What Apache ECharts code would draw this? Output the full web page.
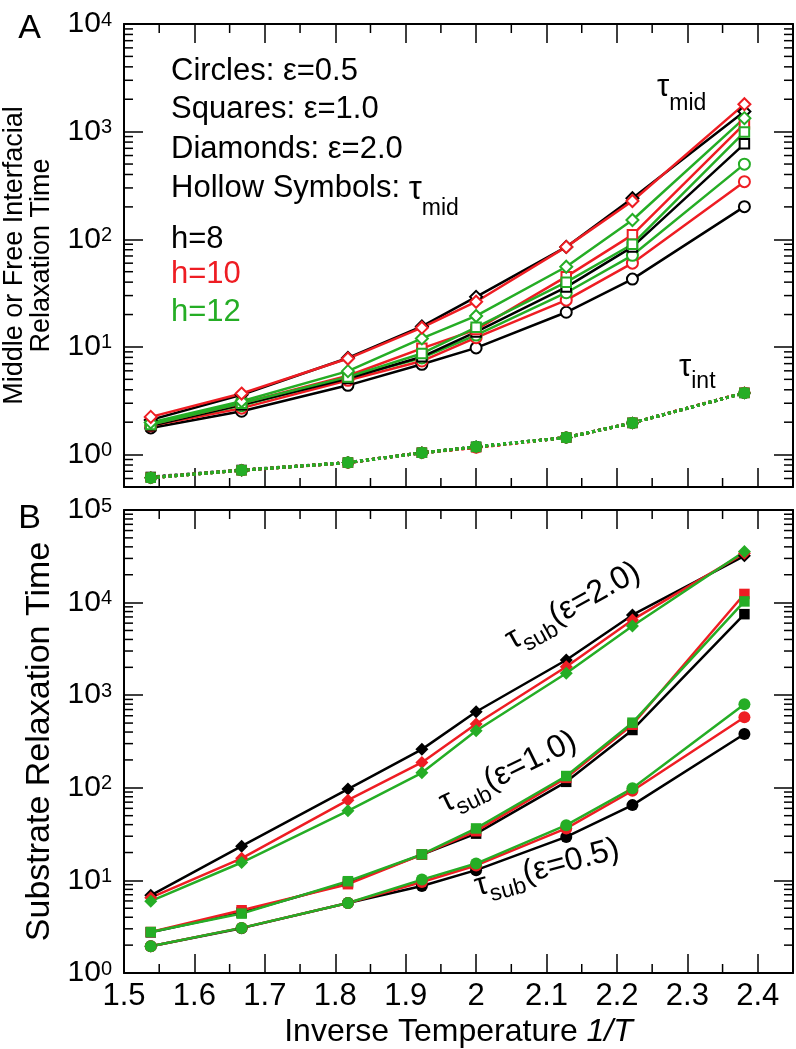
<!DOCTYPE html>
<html><head><meta charset="utf-8">
<script src="https://cdn.jsdelivr.net/npm/echarts@6/dist/echarts.min.js"></script>
<style>html,body{margin:0;padding:0;background:#fff}#c{width:796px;height:1049px}</style>
</head><body><div id="c"></div>
<script>
// ---------------- data ----------------
const invT = [1.538, 1.667, 1.818, 1.923, 2.0, 2.128, 2.222, 2.381];

const xTickValues = [1.5, 1.6, 1.7, 1.8, 1.9, 2.0, 2.1, 2.2, 2.3, 2.4];
const xTickLabels = ['1.5', '1.6', '1.7', '1.8', '1.9', '2', '2.1', '2.2', '2.3', '2.4'];
const xMinorValues = [1.55, 1.65, 1.75, 1.85, 1.95, 2.05, 2.15, 2.25, 2.35];
const minorMultipliers = [2, 3, 4, 5, 6, 7, 8, 9];
const topDecades = [0.1, 1, 10, 100, 1000];
const botDecades = [1, 10, 100, 1000, 10000];

// Panel A: tau_mid (hollow symbols)
const midH8E05  = [1.77, 2.53, 4.4, 6.9, 9.8, 21, 42.7, 201];
const midH10E05 = [1.85, 2.7, 4.9, 7.4, 12.2, 27.2, 60, 343];
const midH12E05 = [1.9, 2.85, 5.2, 7.9, 12.9, 31.9, 71, 499];
const midH8E10  = [1.85, 2.9, 5.1, 8.1, 13.8, 36, 85, 770];
const midH10E10 = [1.9, 3.0, 5.4, 9.7, 14.5, 45, 110, 1180];
const midH12E10 = [1.9, 3.0, 5.27, 8.7, 15.2, 40, 90, 990];
const midH8E20  = [2.1, 3.6, 7.9, 15.5, 29.2, 85, 241, 1540];
const midH10E20 = [2.24, 3.69, 7.8, 15.1, 26.3, 85, 227, 1800];
const midH12E20 = [1.99, 3.13, 5.96, 12, 19.4, 55.6, 151, 1335];

// Panel A: tau_int (filled symbols, dotted)
const intH8E05  = [0.61, 0.715, 0.843, 1.04, 1.18, 1.44, 1.97, 3.74];
const intH10E05 = [0.61, 0.715, 0.84, 1.04, 1.16, 1.44, 1.97, 3.76];
const intH12E05 = [0.61, 0.715, 0.843, 1.04, 1.18, 1.44, 1.97, 3.74];
const intH8E10  = [0.62, 0.72, 0.843, 1.04, 1.18, 1.44, 1.97, 3.74];
const intH10E10 = [0.61, 0.715, 0.843, 1.04, 1.17, 1.44, 1.97, 3.75];
const intH12E10 = [0.61, 0.715, 0.843, 1.04, 1.18, 1.44, 1.97, 3.74];
const intH8E20  = [0.61, 0.715, 0.843, 1.04, 1.18, 1.44, 1.97, 3.74];
const intH10E20 = [0.61, 0.715, 0.843, 1.04, 1.17, 1.44, 1.97, 3.75];
const intH12E20 = [0.61, 0.715, 0.843, 1.04, 1.18, 1.44, 1.97, 3.74];

// Panel B: tau_sub (filled symbols)
const subH8E05  = [1.94, 3.05, 5.7, 8.7, 12.9, 29.5, 65, 381];
const subH10E05 = [1.94, 3.07, 5.7, 9.6, 14.5, 36.4, 93, 577];
const subH12E05 = [1.94, 3.07, 5.71, 10.2, 15.2, 39.5, 98.6, 798];
const subH8E10  = [2.75, 4.5, 9.5, 19, 32, 116, 421, 7500];
const subH10E10 = [2.77, 4.76, 9.1, 19, 34, 128, 480, 12400];
const subH12E10 = [2.77, 4.38, 9.8, 19.1, 36.4, 134, 505, 10300];
const subH8E20  = [6.9, 23.4, 96.8, 260, 663, 2400, 7360, 32000];
const subH10E20 = [6.5, 17.3, 73.6, 188, 488, 2030, 6500, 34200];
const subH12E20 = [5.96, 15.6, 56.4, 145, 413, 1725, 5600, 35600];

// ---------------- styling ----------------
const FONT = '"Liberation Sans", Arial, Helvetica, sans-serif';
const BLACK = '#000000', RED = '#ee1d23', GREEN = '#25ad25';
const MAJOR = 19, MINOR = 9;
const X_MIN = 1.5, X_MAX = 2.45;
const LEG = 31;

const chart = echarts.init(document.getElementById('c'), null, {renderer: 'canvas'});

function minorList(decades, lo, hi) {
  const out = [];
  decades.forEach(d => minorMultipliers.forEach(m => {
    const v = d * m;
    if (v > lo * 1.0001 && v < hi * 0.9999) out.push(v);
  }));
  return out;
}

function powLabel(v) {
  const l = Math.log10(v);
  const e = Math.round(l);
  if (Math.abs(l - e) > 1e-6) return '';
  return '{b|10}{s|' + e + '}';
}
const powRich = {
  b: {fontSize: 30, fontFamily: FONT, color: '#000', lineHeight: 30, padding: [10, 0, 10, 0]},
  s: {fontSize: 20, fontFamily: FONT, color: '#000', lineHeight: 20, verticalAlign: 'top', padding: [1, 0, 0, 0]}
};

function xLabel(v) {
  const i = xTickValues.findIndex(t => Math.abs(t - v) < 1e-6);
  return i >= 0 ? xTickLabels[i] : '';
}

const axisLine = {show: true, onZero: false, lineStyle: {color: '#000', width: 2}};
const majorTick = {show: true, inside: true, length: MAJOR, lineStyle: {color: '#000', width: 1.5}};

function xAx(grid, pos, showLabels, extra) {
  return Object.assign({
    type: 'value', gridIndex: grid, position: pos, min: X_MIN, max: X_MAX,
    axisLine: axisLine,
    axisTick: Object.assign({customValues: xTickValues}, majorTick),
    axisLabel: showLabels ? {
      show: true, customValues: xTickValues, formatter: xLabel, fontSize: 31, lineHeight: 31,
      fontFamily: FONT, color: '#000', margin: 8
    } : {show: false},
    splitLine: {show: false}, minorTick: {show: false}
  }, extra || {});
}

function yAx(grid, pos, min, max, showLabels, extra) {
  return Object.assign({
    type: 'log', logBase: 10, gridIndex: grid, position: pos, min: min, max: max,
    axisLine: axisLine,
    axisTick: majorTick,
    axisLabel: showLabels ? {
      show: true, formatter: powLabel, rich: powRich, margin: 12, color: '#000'
    } : {show: false},
    splitLine: {show: false}, minorTick: {show: false}
  }, extra || {});
}

function minorTickSeries(xi, yi, yMinorVals, yRef) {
  const data = [];
  yMinorVals.forEach(v => data.push([X_MIN, v, 0]));
  xMinorValues.forEach(u => data.push([u, yRef, 1]));
  return {
    type: 'custom', xAxisIndex: xi, yAxisIndex: yi, silent: true, z: 1, animation: false,
    clip: false,
    renderItem: function (params, api) {
      const cs = params.coordSys;
      const p = api.coord([api.value(0), api.value(1)]);
      const st = {stroke: '#000', lineWidth: 1.5};
      if (api.value(2) === 0) {
        return {type: 'group', children: [
          {type: 'line', shape: {x1: cs.x, y1: p[1], x2: cs.x + MINOR, y2: p[1]}, style: st},
          {type: 'line', shape: {x1: cs.x + cs.width - MINOR, y1: p[1], x2: cs.x + cs.width, y2: p[1]}, style: st}
        ]};
      }
      return {type: 'group', children: [
        {type: 'line', shape: {x1: p[0], y1: cs.y + cs.height, x2: p[0], y2: cs.y + cs.height - MINOR}, style: st},
        {type: 'line', shape: {x1: p[0], y1: cs.y, x2: p[0], y2: cs.y + MINOR}, style: st}
      ]};
    },
    data: data
  };
}

const SHAPES = {e05: 'circle', e10: 'rect', e20: 'diamond'};
const SIZES = {e05: 11, e10: 9.5, e20: 12};

function ser(name, vals, color, eps, hollow, dotted, xi, yi) {
  return {
    name: name, type: 'line', xAxisIndex: xi, yAxisIndex: yi,
    data: invT.map((x, i) => [x, vals[i]]),
    symbol: SHAPES[eps], symbolSize: SIZES[eps] + (hollow ? 0 : 1),
    showSymbol: true, animation: false,
    lineStyle: {color: color, width: dotted ? 3 : 2.5, type: dotted ? 'dotted' : 'solid'},
    itemStyle: hollow ? {color: '#ffffff', borderColor: color, borderWidth: 2}
                      : {color: color, borderColor: color, borderWidth: 0, opacity: 1},
    emphasis: {disabled: true}, z: 2
  };
}

const series = [
  minorTickSeries(0, 0, minorList(topDecades, 0.5, 1e4), 1),
  minorTickSeries(2, 2, minorList(botDecades, 1, 1e5), 10),
  // tau_int dotted (panel A)
  ser('int h8 e2', intH8E20, BLACK, 'e20', false, true, 0, 0),
  ser('int h8 e1', intH8E10, BLACK, 'e10', false, true, 0, 0),
  ser('int h8 e05', intH8E05, BLACK, 'e05', false, true, 0, 0),
  ser('int h10 e2', intH10E20, RED, 'e20', false, true, 0, 0),
  ser('int h10 e1', intH10E10, RED, 'e10', false, true, 0, 0),
  ser('int h10 e05', intH10E05, RED, 'e05', false, true, 0, 0),
  ser('int h12 e2', intH12E20, GREEN, 'e20', false, true, 0, 0),
  ser('int h12 e1', intH12E10, GREEN, 'e10', false, true, 0, 0),
  ser('int h12 e05', intH12E05, GREEN, 'e05', false, true, 0, 0),
  // tau_mid hollow (panel A)
  ser('mid h8 e05', midH8E05, BLACK, 'e05', true, false, 0, 0),
  ser('mid h10 e05', midH10E05, RED, 'e05', true, false, 0, 0),
  ser('mid h12 e05', midH12E05, GREEN, 'e05', true, false, 0, 0),
  ser('mid h8 e1', midH8E10, BLACK, 'e10', true, false, 0, 0),
  ser('mid h10 e1', midH10E10, RED, 'e10', true, false, 0, 0),
  ser('mid h12 e1', midH12E10, GREEN, 'e10', true, false, 0, 0),
  ser('mid h8 e2', midH8E20, BLACK, 'e20', true, false, 0, 0),
  ser('mid h12 e2', midH12E20, GREEN, 'e20', true, false, 0, 0),
  ser('mid h10 e2', midH10E20, RED, 'e20', true, false, 0, 0),
  // tau_sub (panel B)
  ser('sub h8 e05', subH8E05, BLACK, 'e05', false, false, 2, 2),
  ser('sub h10 e05', subH10E05, RED, 'e05', false, false, 2, 2),
  ser('sub h12 e05', subH12E05, GREEN, 'e05', false, false, 2, 2),
  ser('sub h8 e1', subH8E10, BLACK, 'e10', false, false, 2, 2),
  ser('sub h10 e1', subH10E10, RED, 'e10', false, false, 2, 2),
  ser('sub h12 e1', subH12E10, GREEN, 'e10', false, false, 2, 2),
  ser('sub h8 e2', subH8E20, BLACK, 'e20', false, false, 2, 2),
  ser('sub h10 e2', subH10E20, RED, 'e20', false, false, 2, 2),
  ser('sub h12 e2', subH12E20, GREEN, 'e20', false, false, 2, 2)
];

function txt(x, y, text, size, color, extra) {
  return Object.assign({type: 'text', x: x, y: y, silent: true, z: 100,
    style: {text: text, font: size + 'px ' + FONT, fill: color || '#000', align: 'left', verticalAlign: 'top', lineHeight: size}}, extra || {});
}

function tauRich(main, sub, tail, mainSize, subSize, subPad) {
  return {
    text: '{t|' + main + '}{s|' + sub + '}' + (tail ? '{p|' + tail + '}' : ''),
    rich: {
      t: {fontSize: mainSize, fontFamily: FONT, lineHeight: mainSize, verticalAlign: 'top', fill: '#000'},
      s: {fontSize: subSize, fontFamily: FONT, lineHeight: subSize, verticalAlign: 'top', padding: [subPad, 0, 0, 0], fill: '#000'},
      p: {fontSize: mainSize, fontFamily: FONT, lineHeight: mainSize, verticalAlign: 'top', fill: '#000'}
    }
  };
}

const deg = Math.PI / 180;
const graphics = [
  {type: 'text', x: 29.5, y: 28.7, silent: true, style: {text: 'A', font: '34px ' + FONT, fill: '#000', align: 'center', verticalAlign: 'middle'}},
  {type: 'text', x: 29.5, y: 519, silent: true, style: {text: 'B', font: '34px ' + FONT, fill: '#000', align: 'center', verticalAlign: 'middle'}},
  txt(171, 56, 'Circles: \u03b5=0.5', LEG),
  txt(171, 94, 'Squares: \u03b5=1.0', LEG),
  txt(171, 134, 'Diamonds: \u03b5=2.0', LEG),
  {type: 'text', x: 171, y: 173, silent: true, z: 100, style: {
    text: '{a|Hollow Symbols: }{t|\u03c4}{s|mid}', align: 'left', verticalAlign: 'top',
    rich: {
      a: {fontSize: LEG, fontFamily: FONT, lineHeight: LEG, verticalAlign: 'top', fill: '#000'},
      t: {fontSize: 33, fontFamily: FONT, lineHeight: LEG, verticalAlign: 'top', fill: '#000'},
      s: {fontSize: 23, fontFamily: FONT, lineHeight: 23, verticalAlign: 'top', padding: [24, 0, 0, 0], fill: '#000'}
    }}},
  txt(171, 224, 'h=8', LEG, BLACK),
  txt(171, 259, 'h=10', LEG, RED),
  txt(171, 297, 'h=12', LEG, GREEN),
  {type: 'text', x: 657, y: 72, silent: true, z: 100,
    style: Object.assign(tauRich('\u03c4', 'mid', null, 31, 23, 20), {align: 'left', verticalAlign: 'top'})},
  {type: 'text', x: 679, y: 352, silent: true, z: 100,
    style: Object.assign(tauRich('\u03c4', 'int', null, 31, 23, 18), {align: 'left', verticalAlign: 'top'})},
  {type: 'text', x: 573, y: 606, rotation: 29 * deg, silent: true, z: 100,
    style: Object.assign(tauRich('\u03c4', 'sub', '(\u03b5=2.0)', 32, 23, 16), {align: 'center', verticalAlign: 'middle'})},
  {type: 'text', x: 508, y: 772, rotation: 26 * deg, silent: true, z: 100,
    style: Object.assign(tauRich('\u03c4', 'sub', '(\u03b5=1.0)', 32, 23, 16), {align: 'center', verticalAlign: 'middle'})},
  {type: 'text', x: 547, y: 868, rotation: 15 * deg, silent: true, z: 100,
    style: Object.assign(tauRich('\u03c4', 'sub', '(\u03b5=0.5)', 32, 23, 16), {align: 'center', verticalAlign: 'middle'})}
];

const option = {
  backgroundColor: '#ffffff',
  animation: false,
  grid: [
    {left: 124, top: 24, width: 669, height: 463, outerBoundsMode: 'none', containLabel: false},
    {left: 124, top: 510, width: 669, height: 463, outerBoundsMode: 'none', containLabel: false}
  ],
  xAxis: [
    xAx(0, 'bottom', false),
    xAx(0, 'top', false),
    xAx(1, 'bottom', true, {
      name: '{a|Inverse Temperature }{b|1/T}', nameLocation: 'middle', nameGap: 43,
      nameTextStyle: {color: '#000', rich: {
        a: {fontSize: 32, fontFamily: FONT, lineHeight: 32, color: '#000'},
        b: {fontSize: 32, fontFamily: FONT, lineHeight: 32, fontStyle: 'italic', color: '#000'}
      }}
    }),
    xAx(1, 'top', false)
  ],
  yAxis: [
    yAx(0, 'left', 0.5, 10000, true, {
      name: 'Middle or Free Interfacial\nRelaxation Time', nameLocation: 'middle', nameGap: 69, nameRotate: 90,
      nameTextStyle: {fontSize: 27, lineHeight: 27, fontFamily: FONT, color: '#000', align: 'center'}
    }),
    yAx(0, 'right', 0.5, 10000, false),
    yAx(1, 'left', 1, 100000, true, {
      name: 'Substrate Relaxation Time', nameLocation: 'middle', nameGap: 63, nameRotate: 90,
      nameTextStyle: {fontSize: 34, lineHeight: 34, fontFamily: FONT, color: '#000'}
    }),
    yAx(1, 'right', 1, 100000, false)
  ],
  series: series,
  graphic: {elements: graphics}
};
chart.setOption(option);
</script>
</body></html>
